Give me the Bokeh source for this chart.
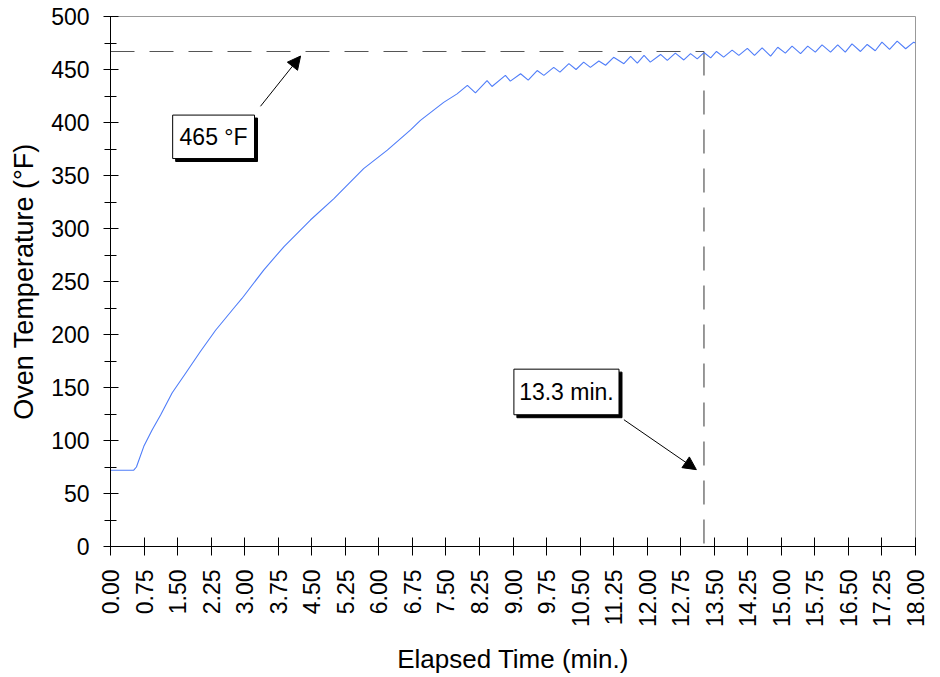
import math
from bokeh.plotting import figure
from bokeh.models import (Range1d, FixedTicker, SingleIntervalTicker, NumeralTickFormatter,
                          Arrow, NormalHead)
from bokeh.core.properties import value
from bokeh.embed import file_html
from bokeh.resources import INLINE

# ---- data ----
elapsed_min = [0.00, 0.52, 0.58, 0.745, 0.93, 1.12, 1.38, 1.68, 2.01, 2.35, 2.76, 2.94,
               3.43, 3.88, 4.47, 4.99, 5.66, 6.19, 6.71, 6.93, 7.45, 7.75, 7.98, 8.16,
               8.42, 8.53, 8.83, 8.94, 9.17, 9.34, 9.54, 9.69, 9.91, 10.05, 10.25, 10.41,
               10.58, 10.73, 10.92, 11.07, 11.25, 11.48, 11.63, 11.78, 11.93, 12.07, 12.30,
               12.45, 12.63, 12.82, 12.97, 13.12, 13.27, 13.42, 13.55, 13.71, 13.90, 14.05,
               14.24, 14.40, 14.57, 14.76, 14.92, 15.09, 15.24, 15.43, 15.59, 15.76, 15.91,
               16.10, 16.26, 16.43, 16.58, 16.77, 16.92, 17.10, 17.25, 17.42, 17.59, 17.78,
               17.96, 18.00]
oven_temp_f = [72, 72, 75, 94.5, 110, 124, 145, 163.5, 184, 204, 225, 234,
               261, 283, 308, 328, 356.5, 374, 393, 402, 419, 427, 435, 428,
               439.5, 434, 444.4, 439, 446, 440, 449, 444.5, 452, 447.5, 455.5, 450,
               457, 452, 458, 454, 461.5, 455.5, 462.3, 456, 463.3, 457, 464.2,
               458.6, 465.5, 459, 465, 460, 466, 461, 467, 461.7, 468.3, 463.3,
               470, 463.3, 470.5, 462.6, 471, 465.5, 472, 465, 472, 466.4, 473.3,
               466.4, 473.3, 466.4, 474.2, 467, 473.6, 467.7, 475.8, 469, 476.8, 469.6,
               475.8, 475]
x_ticks = [i * 0.75 for i in range(25)]
target_temp = 467      # dashed level labelled "465 °F"
target_time = 13.27    # dashed time labelled "13.3 min."
label_temp = "465 °F"
label_time = "13.3 min."

FONT = "Liberation Sans"

p = figure(width=940, height=677, output_backend="svg", toolbar_location=None,
           x_range=Range1d(0, 18), y_range=Range1d(0, 500),
           min_border_left=110, min_border_right=25, min_border_top=16, min_border_bottom=130)
p.background_fill_color = "white"
p.border_fill_color = "white"
p.outline_line_color = "#999999"
p.grid.visible = False

# axes
p.xaxis.ticker = FixedTicker(ticks=x_ticks)
p.xaxis.formatter = NumeralTickFormatter(format="0.00")
p.xaxis.major_label_orientation = math.pi / 2
p.yaxis.ticker = SingleIntervalTicker(interval=50, num_minor_ticks=2)
for ax in (p.xaxis[0], p.yaxis[0]):
    ax.axis_line_color = "black"
    ax.major_tick_line_color = "black"
    ax.major_label_text_font = FONT
    ax.major_label_text_font_size = "23px"
    ax.major_label_text_color = "black"
    ax.axis_label_text_font = FONT
    ax.axis_label_text_font_style = "normal"
    ax.axis_label_text_color = "black"
p.xaxis.axis_label_text_font_size = "26px"
p.yaxis.axis_label_text_font_size = "27px"
p.xaxis.major_tick_in = 9
p.xaxis.major_tick_out = 9
p.xaxis.minor_tick_line_color = None
p.xaxis.major_label_standoff = 14
p.xaxis.axis_label = "Elapsed Time (min.)"
p.xaxis.axis_label_standoff = 14
p.yaxis.major_tick_in = 8
p.yaxis.major_tick_out = 7
p.yaxis.minor_tick_in = 6
p.yaxis.minor_tick_out = 6
p.yaxis.minor_tick_line_color = "black"
p.yaxis.major_label_standoff = 14
p.yaxis.axis_label = "Oven Temperature (°F)"
p.yaxis.axis_label_standoff = 9

# reference dashed lines
p.line([0, target_time], [target_temp, target_temp], line_color="#555555",
       line_width=1.2, line_dash="24 15")
p.line([target_time, target_time], [target_temp, 0], line_color="#555555",
       line_width=1.2, line_dash="24 15")

# curve
p.line(elapsed_min, oven_temp_f, line_color="#4f7df9", line_width=1.1)

# annotation boxes (shadow + box + text)
sdx, sdy = 0.067, 2.8
boxes = [(1.39, 3.22, 366.0, 407.0, label_temp), (9.02, 11.37, 124.3, 167.3, label_time)]
for (l, r, b, t, txt) in boxes:
    p.quad(left=[l + sdx], right=[r + sdx], bottom=[b - sdy], top=[t - sdy],
           fill_color="black", line_color="black")
    p.quad(left=[l], right=[r], bottom=[b], top=[t], fill_color="white",
           line_color="black", line_width=1)
    p.text(x=[(l + r) / 2], y=[(b + t) / 2], text=[txt], text_font=value(FONT),
           text_font_size="23px", text_align="center", text_baseline="middle",
           text_color="black")

# arrows
for (xs, ys, xe, ye) in [(3.354, 415.3, 4.25, 462.7), (11.48, 119.6, 13.1, 72.5)]:
    p.add_layout(Arrow(end=NormalHead(size=13, fill_color="black", line_color="black"),
                       x_start=xs, y_start=ys, x_end=xe, y_end=ye,
                       line_color="black", line_width=1))

open("out.html", "w").write(file_html(p, INLINE))
